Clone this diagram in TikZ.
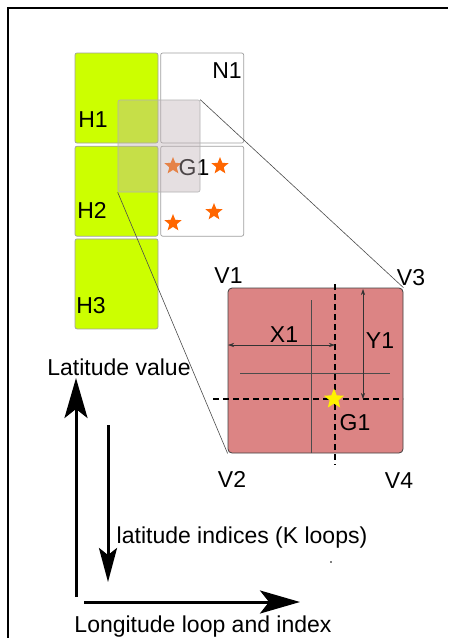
\documentclass[tikz,border=0pt]{standalone}
\usepackage{fontspec}
\setmainfont{Liberation Sans}
\usepackage{tikz}
\usetikzlibrary{
  shapes.geometric,
  arrows.meta, positioning
}
\usepackage{xcolor}
\definecolor{limecell}{RGB}{204,255,0}
\definecolor{cellred}{RGB}{220,132,132}
\definecolor{starorange}{RGB}{255,102,0}
\definecolor{winfill}{RGB}{190,175,180}
\tikzset{
  hbox/.style={rectangle, draw=gray!75, fill=limecell,
    minimum width=83pt, minimum height=90pt,
    rounded corners=2pt, inner sep=0pt, line width=0.7pt},
  nbox/.style={hbox, fill=white},
  zwin/.style={rectangle, draw=gray!60, fill=winfill, fill opacity=0.4,
    minimum width=82pt, minimum height=92pt,
    rounded corners=2pt, inner sep=0pt, line width=0.6pt},
  bigcell/.style={rectangle, draw=black!75, fill=cellred,
    minimum width=175pt, minimum height=165pt,
    rounded corners=4pt, inner sep=0pt, line width=0.8pt},
  lbl/.style={font=\fontsize{23}{26}\selectfont, inner sep=0pt, anchor=base},
  ptstar/.style={star, star points=5, star point ratio=2.3,
    fill=starorange, minimum size=18pt, inner sep=0pt},
  gstar/.style={ptstar, fill=yellow, minimum size=21pt},
  thinln/.style={draw=black!70, line width=0.5pt},
  dashln/.style={draw=black, line width=1.1pt, dash pattern=on 6pt off 4pt},
  zoomln/.style={draw=black!70, line width=0.6pt},
  dimarr/.style={{Stealth[length=6pt,width=4pt]}-{Stealth[length=6pt,width=4pt]},
    draw=black!80, line width=0.6pt},
  bigarr/.style={-{Stealth[length=40pt,width=23pt,inset=9pt]}, line width=3pt},
  midarr/.style={-{Stealth[length=34pt,width=18pt,inset=7pt]}, line width=3pt},
}

\begin{document}
\begin{tikzpicture}[x=1pt, y=-1pt]
  \useasboundingbox (0,0) rectangle (448,638);

  % ---- frame ----
  \draw[line width=2pt] (8,638) -- (8,8) -- (448,8);

  % ---- H column and neighbour cells ----
  \node[hbox] (h1) at (116.5,98) {};
  \node[hbox, below=2.5pt of h1] (h2) {};
  \node[hbox, below=2pt of h2] (h3) {};
  \node[nbox, right=2pt of h1] (n1) {};
  \node[nbox, right=2pt of h2] (n2) {};

  \node[lbl] at (93,127)  {H1};
  \node[lbl] at (92,218)  {H2};
  \node[lbl] at (91,313)  {H3};
  \node[lbl] at (227,78)  {N1};

  % ---- points in N2 ----
  \node[ptstar] (p1) at (173,166) {};
  \node[ptstar] (p2) at (220,166) {};
  \node[ptstar] (p3) at (214,212) {};
  \node[ptstar] (p4) at (173,223) {};
  \node[lbl] (g1top) at (194,175) {G1};

  % ---- zoom window ----
  \node[zwin] (zoomwin) at (159,146) {};

  % ---- enlarged cell ----
  \node[bigcell] (cell) at (315.5,370.5) {};
  \draw[thinln] (311,300) -- (311,453);
  \draw[thinln] (240,373) -- (390,373);
  \draw[dashln] (335,284) -- (335,465);
  \draw[dashln] (213,399) -- (403,399);
  \node[gstar] (gpt) at (334,399) {};

  \coordinate (xa) at (228,345);
  \coordinate (xb) at (335,345);
  \coordinate (ya) at (363,289);
  \coordinate (yb) at (363,399);
  \draw[dimarr] (xa) -- (xb);
  \draw[dimarr] (ya) -- (yb);

  \node[lbl] at (284,342) {X1};
  \node[lbl] at (380,348) {Y1};
  \node[lbl] at (355,430) {G1};
  \node[lbl] at (228.5,283) {V1};
  \node[lbl] at (411,285) {V3};
  \node[lbl] at (232,487) {V2};
  \node[lbl] at (399,488) {V4};

  % ---- zoom lines ----
  \draw[zoomln] (zoomwin.north east) -- (cell.north east);
  \draw[zoomln] (zoomwin.south west) -- (cell.south west);

  % ---- index arrows ----
  \coordinate (upfoot) at (76,597);
  \coordinate (uptip)  at (76,378);
  \coordinate (dnfoot) at (108,425);
  \coordinate (dntip)  at (108,582);
  \coordinate (rtfoot) at (84,602);
  \coordinate (rttip)  at (300,602);
  \draw[bigarr] (upfoot) -- (uptip);
  \draw[midarr] (dnfoot) -- (dntip);
  \draw[bigarr] (rtfoot) -- (rttip);

  % ---- labels ----
  \node[lbl] at (119,375) {Latitude value};
  \node[lbl] at (242,543) {latitude indices (K loops)};
  \node[lbl] at (203,632) {Longitude loop and index};
  \fill (331,562) circle (0.8pt);
\end{tikzpicture}
\end{document}
